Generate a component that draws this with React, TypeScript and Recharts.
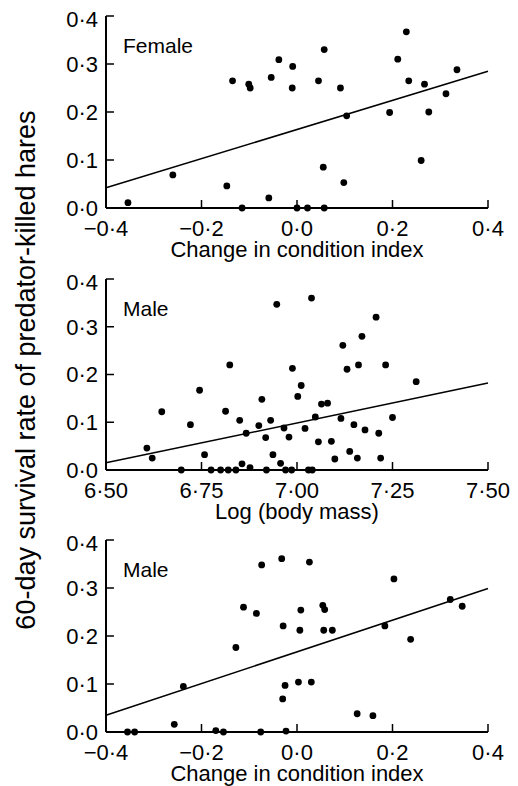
import { ScatterChart, Scatter, XAxis, YAxis, ReferenceLine, Label } from "recharts"

// change in condition index vs survival, females
const femaleCondition = [
  -0.354, -0.26, -0.147, -0.135, -0.115, -0.101, -0.098, -0.059, -0.054, -0.038,
  -0.009, -0.01, 0.0, 0.022, 0.045, 0.057, 0.055, 0.057, 0.091, 0.098,
  0.104, 0.194, 0.211, 0.229, 0.234, 0.26, 0.267, 0.276, 0.312, 0.335,
]
const femaleSurvival = [
  0.011, 0.069, 0.046, 0.265, 0, 0.258, 0.25, 0.021, 0.272, 0.309,
  0.295, 0.25, 0, 0, 0.265, 0.33, 0.085, 0, 0.25, 0.053,
  0.192, 0.199, 0.31, 0.367, 0.265, 0.099, 0.258, 0.2, 0.238, 0.288,
]
const femaleFitX = [-0.4, 0.4]
const femaleFitY = [0.042, 0.285]

// log body mass vs survival, males
const maleMass = [
  6.607, 6.621, 6.646, 6.697, 6.721, 6.745, 6.758, 6.775, 6.8, 6.813,
  6.82, 6.824, 6.84, 6.85, 6.856, 6.867, 6.877, 6.9, 6.908, 6.918,
  6.92, 6.931, 6.937, 6.947, 6.957, 6.966, 6.97, 6.979, 6.986, 6.988,
  7.002, 7.011, 7.021, 7.03, 7.038, 7.04, 7.048, 7.056, 7.064, 7.08,
  7.09, 7.099, 7.115, 7.12, 7.131, 7.138, 7.149, 7.158, 7.161, 7.17,
  7.178, 7.207, 7.214, 7.219, 7.232, 7.25, 7.312,
]
const maleMassSurvival = [
  0.046, 0.025, 0.122, 0, 0.095, 0.167, 0.032, 0, 0, 0.123,
  0, 0.22, 0, 0.104, 0.013, 0.077, 0.005, 0.093, 0.148, 0.068,
  0, 0.104, 0.032, 0.347, 0.014, 0.088, 0, 0.069, 0, 0.213,
  0.154, 0.177, 0.087, 0, 0.36, 0, 0.111, 0.059, 0.138, 0.14,
  0.06, 0.023, 0.108, 0.261, 0.211, 0.039, 0.095, 0.025, 0.22, 0.28,
  0.084, 0.32, 0.077, 0.025, 0.22, 0.11, 0.185,
]
const massFitX = [6.5, 7.5]
const massFitY = [0.015, 0.182]

// change in condition index vs survival, males
const maleCondition = [
  -0.355, -0.34, -0.257, -0.238, -0.17, -0.154, -0.128, -0.112, -0.085, -0.076,
  -0.074, -0.032, -0.03, -0.029, -0.025, -0.023, 0.003, 0.008, 0.006, 0.026,
  0.03, 0.054, 0.058, 0.056, 0.074, 0.126, 0.159, 0.184, 0.203, 0.238,
  0.321, 0.346,
]
const maleConditionSurvival = [
  0, 0, 0.016, 0.095, 0.003, 0, 0.176, 0.26, 0.247, 0,
  0.348, 0.361, 0.069, 0.221, 0.097, 0.002, 0.104, 0.254, 0.212, 0.354,
  0.104, 0.264, 0.255, 0.212, 0.212, 0.038, 0.034, 0.221, 0.319, 0.193,
  0.276, 0.262,
]
const conditionFitX = [-0.4, 0.4]
const conditionFitY = [0.035, 0.299]

const conditionTicks = [-0.4, -0.2, 0, 0.2, 0.4]
const massTicks = [6.5, 6.75, 7, 7.25, 7.5]
const survivalTicks = [0, 0.1, 0.2, 0.3, 0.4]

const font = "'Liberation Sans', Arial, Helvetica, sans-serif"

const fmt = (digits: number) => (v: number) =>
  (v < 0 ? "\u2212" : "") + Math.abs(v).toFixed(digits).replace(".", "\u00b7")

const axisLine = { stroke: "#000", strokeWidth: 2 }
const tickLine = { stroke: "#000", strokeWidth: 1.5 }
const tickText = { fontSize: 22, fill: "#000", style: { fontSize: 22 } }

const dot = (props: any) => <circle cx={props.cx} cy={props.cy} r={3.4} fill="#000" />

interface PanelProps {
  top: number
  plotH: number
  xs: number[]
  ys: number[]
  fitX: number[]
  fitY: number[]
  domain: [number, number]
  ticks: number[]
  digits: number
  tag: string
  title: string
}

function Panel({ top, plotH, xs, ys, fitX, fitY, domain, ticks, digits, tag, title }: PanelProps) {
  const data = xs.map((x, i) => ({ x, y: ys[i] }))
  return (
    <>
      <div style={{ position: "absolute", left: 0, top: top - 10 }}>
        <ScatterChart width={518} height={10 + plotH + 60} margin={{ top: 10, right: 30, bottom: 10, left: 0 }}>
          <XAxis
            xAxisId="top"
            orientation="top"
            type="number"
            dataKey="x"
            domain={domain}
            ticks={ticks}
            height={0}
            tickSize={-8}
            tickFormatter={() => ""}
            axisLine={axisLine}
            tickLine={tickLine}
          />
          <XAxis
            type="number"
            dataKey="x"
            domain={domain}
            ticks={ticks}
            height={50}
            tickSize={-8}
            tickMargin={20}
            tickFormatter={fmt(digits)}
            fontSize={22}
            tick={tickText}
            axisLine={axisLine}
            tickLine={tickLine}
          >
            <Label value={title} position="insideBottom" offset={1} fontSize={22} fill="#000" />
          </XAxis>
          <YAxis
            type="number"
            dataKey="y"
            domain={[0, 0.4]}
            ticks={survivalTicks}
            width={106}
            tickSize={-8}
            tickMargin={16}
            tickFormatter={fmt(1)}
            fontSize={22}
            tick={tickText}
            axisLine={axisLine}
            tickLine={tickLine}
          />
          <YAxis
            yAxisId="right"
            orientation="right"
            type="number"
            domain={[0, 0.4]}
            width={0}
            tick={false}
            tickLine={false}
            axisLine={axisLine}
          />
          <ReferenceLine
            segment={[
              { x: fitX[0], y: fitY[0] },
              { x: fitX[1], y: fitY[1] },
            ]}
            stroke="#000"
            strokeWidth={1.5}
          />
          <Scatter data={data} shape={dot} isAnimationActive={false} />
        </ScatterChart>
      </div>
      <div
        style={{
          position: "absolute",
          left: 123,
          top: top + 19,
          fontSize: 21,
          lineHeight: "21px",
        }}
      >
        {tag}
      </div>
    </>
  )
}

export default function App() {
  return (
    <div
      style={{
        position: "absolute",
        left: 0,
        top: 0,
        width: 518,
        height: 786,
        background: "#fff",
        fontFamily: font,
        color: "#000",
      }}
    >
      <div
        style={{
          position: "absolute",
          left: 26 - 300,
          top: 370 - 15,
          width: 600,
          height: 30,
          lineHeight: "30px",
          fontSize: 27,
          textAlign: "center",
          transform: "rotate(-90deg)",
          whiteSpace: "nowrap",
        }}
      >
        60-day survival rate of predator-killed hares
      </div>
      <Panel
        top={16}
        plotH={192}
        xs={femaleCondition}
        ys={femaleSurvival}
        fitX={femaleFitX}
        fitY={femaleFitY}
        domain={[-0.4, 0.4]}
        ticks={conditionTicks}
        digits={1}
        tag="Female"
        title="Change in condition index"
      />
      <Panel
        top={279}
        plotH={191}
        xs={maleMass}
        ys={maleMassSurvival}
        fitX={massFitX}
        fitY={massFitY}
        domain={[6.5, 7.5]}
        ticks={massTicks}
        digits={2}
        tag="Male"
        title="Log (body mass)"
      />
      <Panel
        top={540}
        plotH={192}
        xs={maleCondition}
        ys={maleConditionSurvival}
        fitX={conditionFitX}
        fitY={conditionFitY}
        domain={[-0.4, 0.4]}
        ticks={conditionTicks}
        digits={1}
        tag="Male"
        title="Change in condition index"
      />
    </div>
  )
}
